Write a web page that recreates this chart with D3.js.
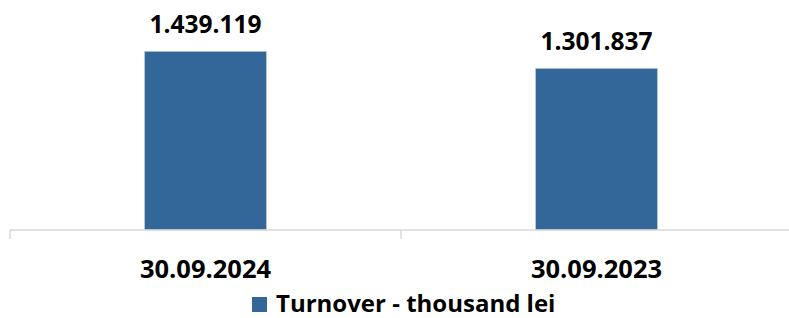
<!DOCTYPE html>
<html><head><meta charset="utf-8">
<script src="https://cdn.jsdelivr.net/npm/d3@7"></script>
<style>body{margin:0;background:#fff}svg{display:block}text{font-family:"Open Sans",sans-serif;font-weight:700;fill:#000}</style>
</head><body>
<script>
const categories = ["30.09.2024", "30.09.2023"];
const values = [1439119, 1301837];
const labels = ["1.439.119", "1.301.837"];
const seriesName = "Turnover - thousand lei";

const W = 789, H = 318;
const svg = d3.select("body").append("svg").attr("width", W).attr("height", H);
const x = d3.scaleBand().domain(categories).range([10, 792]).paddingInner(0.688).paddingOuter(0.344);
const y = d3.scaleLinear().domain([0, 1800000]).range([230, 6.5]);

svg.selectAll("rect.bar").data(values).join("rect").attr("class","bar")
  .attr("x", (d,i)=>x(categories[i])).attr("width", x.bandwidth())
  .attr("y", d=>y(d)).attr("height", d=>y(0)-y(d))
  .attr("fill", "#336699").attr("stroke","#c9d6e3").attr("stroke-width",0.6);

const ax = svg.append("g").attr("transform","translate(0,230)");
ax.append("line").attr("x1",10).attr("x2",792).attr("stroke","#d9d9d9").attr("stroke-width",1.5);
const tickPos = [10, 10 + x.step(), 10 + 2*x.step()];
ax.selectAll("line.t").data(tickPos).join("line").attr("class","t")
  .attr("x1",d=>d).attr("x2",d=>d).attr("y1",0).attr("y2",9).attr("stroke","#d9d9d9").attr("stroke-width",1.5);

svg.selectAll("text.val").data(values).join("text").attr("class","val")
  .attr("x",(d,i)=>x(categories[i])+x.bandwidth()/2).attr("y",d=>y(d)-18)
  .attr("text-anchor","middle").attr("font-size",24.5).text((d,i)=>labels[i]);

svg.selectAll("text.cat").data(categories).join("text").attr("class","cat")
  .attr("x",d=>x(d)+x.bandwidth()/2).attr("y",278)
  .attr("text-anchor","middle").attr("font-size",25.5).text(d=>d);

const lg = svg.append("g");
lg.append("rect").attr("x",252).attr("y",297).attr("width",15).attr("height",15).attr("fill","#336699");
lg.append("text").attr("x",276).attr("y",311.5).attr("font-size",24).text(seriesName);
</script>
</body></html>
